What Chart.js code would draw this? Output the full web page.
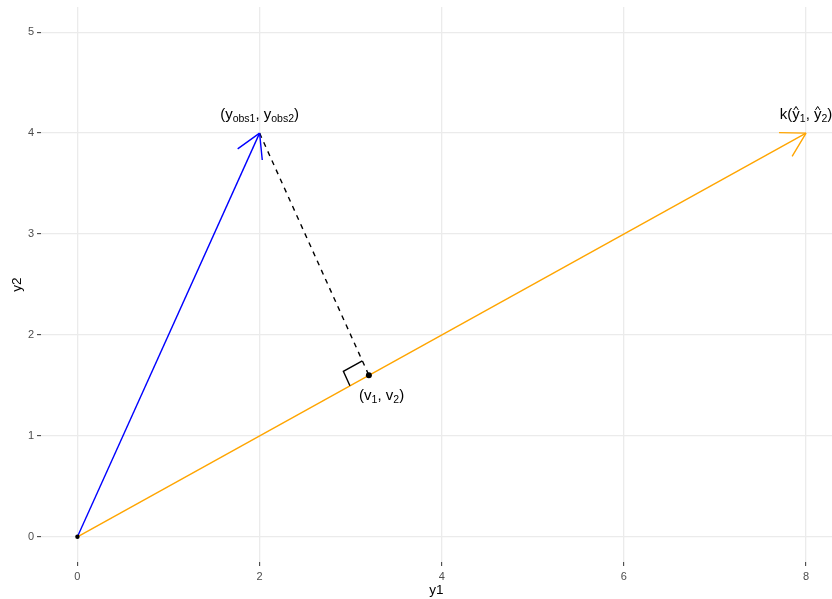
<!DOCTYPE html>
<html>
<head>
<meta charset="utf-8">
<script src="https://cdn.jsdelivr.net/npm/chart.js@4/dist/chart.umd.min.js"></script>
<style>
  html, body { margin: 0; padding: 0; background: #ffffff; overflow: hidden; }
  #wrap { width: 832px; height: 599px; }
</style>
</head>
<body>
<div id="wrap"><canvas id="c" width="832" height="599"></canvas></div>
<script>
// Vectors in the (y1, y2) plane
const originPt   = [0, 0];
const yObs       = [2, 4];     // observed vector
const yHatScaled = [8, 4];     // k times the fitted direction
const vProj      = [3.2, 1.6]; // projection of yObs onto the fitted direction

// Axis ticks and visible ranges
const xTicks = [0, 2, 4, 6, 8];
const yTicks = [0, 1, 2, 3, 4, 5];
const xRange = [-0.4, 8.285];
const yRange = [-0.25, 5.25];

// Annotation texts (pieces: plain, subscript, hatted) and their anchors
const labelParts = [
  [{t: '('}, {t: 'y'}, {t: 'obs1', sub: true}, {t: ', '}, {t: 'y'}, {t: 'obs2', sub: true}, {t: ')'}],
  [{t: 'k('}, {t: 'y', hat: true}, {t: '1', sub: true}, {t: ', '}, {t: 'y', hat: true}, {t: '2', sub: true}, {t: ')'}],
  [{t: '('}, {t: 'v'}, {t: '1', sub: true}, {t: ', '}, {t: 'v'}, {t: '2', sub: true}, {t: ')'}]
];
const labelX = [2, 8, 3.34];
const labelY = [4.18, 4.18, 1.4];

// Right-angle marker: fractions of the way from v toward the origin and toward yObs
const cornerAlongFit = 0.065;
const cornerAlongResid = 0.06;

const pt = (p) => ({x: p[0], y: p[1]});
const alongFit = [vProj[0] - cornerAlongFit * (vProj[0] - originPt[0]),
                  vProj[1] - cornerAlongFit * (vProj[1] - originPt[1])];
const stepResid = [cornerAlongResid * (yObs[0] - vProj[0]),
                   cornerAlongResid * (yObs[1] - vProj[1])];
const cornerPath = [
  alongFit,
  [alongFit[0] + stepResid[0], alongFit[1] + stepResid[1]],
  [vProj[0] + stepResid[0], vProj[1] + stepResid[1]]
];

const FONT = '"Liberation Sans", Arial, Helvetica, sans-serif';

// Open arrowheads at the end of datasets flagged with `arrow`
const arrowHeads = {
  id: 'arrowHeads',
  afterDatasetsDraw(chart) {
    const {ctx, scales: {x, y}} = chart;
    const L = 27, spread = Math.PI / 6;
    ctx.save();
    chart.data.datasets.forEach((ds) => {
      if (!ds.arrow) return;
      const a = ds.data[ds.data.length - 2], b = ds.data[ds.data.length - 1];
      const x0 = x.getPixelForValue(a.x), y0 = y.getPixelForValue(a.y);
      const x1 = x.getPixelForValue(b.x), y1 = y.getPixelForValue(b.y);
      const back = Math.atan2(y0 - y1, x0 - x1);
      ctx.strokeStyle = ds.borderColor;
      ctx.lineWidth = ds.borderWidth;
      ctx.lineCap = 'butt';
      ctx.beginPath();
      [-1, 1].forEach((s) => {
        ctx.moveTo(x1, y1);
        ctx.lineTo(x1 + L * Math.cos(back + s * spread), y1 + L * Math.sin(back + s * spread));
      });
      ctx.stroke();
    });
    ctx.restore();
  }
};

// Math-style labels with subscripts and hats
const mathLabels = {
  id: 'mathLabels',
  afterDatasetsDraw(chart) {
    const {ctx, scales: {x, y}} = chart;
    const mainSize = 15, subSize = 10.5;
    ctx.save();
    ctx.fillStyle = '#000000';
    ctx.strokeStyle = '#000000';
    ctx.textBaseline = 'alphabetic';
    ctx.textAlign = 'left';
    labelParts.forEach((parts, i) => {
      const widths = parts.map((p) => {
        ctx.font = (p.sub ? subSize : mainSize) + 'px ' + FONT;
        return ctx.measureText(p.t).width;
      });
      const total = widths.reduce((s, w) => s + w, 0);
      let cx = x.getPixelForValue(labelX[i]) - total / 2;
      const base = y.getPixelForValue(labelY[i]) + 4.5;
      parts.forEach((p, j) => {
        ctx.font = (p.sub ? subSize : mainSize) + 'px ' + FONT;
        ctx.fillText(p.t, cx, base + (p.sub ? 3 : 0));
        if (p.hat) {
          const w = widths[j];
          ctx.lineWidth = 1;
          ctx.beginPath();
          ctx.moveTo(cx + 1.5, base - 9.5);
          ctx.lineTo(cx + w / 2, base - 13);
          ctx.lineTo(cx + w - 1.5, base - 9.5);
          ctx.stroke();
        }
        cx += widths[j];
      });
    });
    ctx.restore();
  }
};

// Scales take the full panel: no extra padding reserved for edge tick labels
const noEdgePadding = (s) => { s.paddingLeft = 0; s.paddingRight = 0; s.paddingTop = 0; s.paddingBottom = 0; };

new Chart(document.getElementById('c'), {
  type: 'scatter',
  data: {
    datasets: [
      { // points at the origin and at v
        data: [pt(originPt), pt(vProj)],
        backgroundColor: '#000000', borderColor: '#000000',
        pointRadius: [2.2, 3], pointBorderWidth: 0, showLine: false, order: 0
      },
      { // right-angle marker
        data: cornerPath.map(pt),
        showLine: true, borderColor: '#000000', borderWidth: 1.4,
        pointRadius: 0, fill: false, order: 1
      },
      { // residual, dashed
        data: [pt(yObs), pt(vProj)],
        showLine: true, borderColor: '#000000', borderWidth: 1.4, borderDash: [5, 5],
        pointRadius: 0, order: 2
      },
      { // fitted vector
        data: [pt(originPt), pt(yHatScaled)],
        showLine: true, borderColor: '#FFA500', borderWidth: 1.4,
        pointRadius: 0, arrow: true, order: 3
      },
      { // observed vector
        data: [pt(originPt), pt(yObs)],
        showLine: true, borderColor: '#0000FF', borderWidth: 1.4,
        pointRadius: 0, arrow: true, order: 4
      }
    ]
  },
  options: {
    responsive: false,
    animation: false,
    events: [],
    layout: { autoPadding: false, padding: { top: 7, right: 0, bottom: 0, left: 0 } },
    plugins: { legend: { display: false }, tooltip: { enabled: false } },
    scales: {
      x: {
        type: 'linear', min: xRange[0], max: xRange[1],
        afterBuildTicks: (s) => { s.ticks = xTicks.map((v) => ({value: v})); },
        afterFit: (s) => { s.height = 37; noEdgePadding(s); },
        border: { display: false },
        grid: { color: '#EBEBEB', lineWidth: 1.3, tickColor: '#333333', tickLength: 4, tickWidth: 1 },
        ticks: { color: '#4D4D4D', font: { family: FONT, size: 11 }, padding: 4, maxRotation: 0 },
        title: { display: true, text: 'y1', color: '#000000', font: { family: FONT, size: 13.5 }, padding: { top: 0, bottom: 1 } }
      },
      y: {
        type: 'linear', min: yRange[0], max: yRange[1],
        afterBuildTicks: (s) => { s.ticks = yTicks.map((v) => ({value: v})); },
        afterFit: (s) => { s.width = 41; noEdgePadding(s); },
        border: { display: false },
        grid: { color: '#EBEBEB', lineWidth: 1.3, tickColor: '#333333', tickLength: 4, tickWidth: 1 },
        ticks: { color: '#4D4D4D', font: { family: FONT, size: 11 }, padding: 3 },
        title: { display: true, text: 'y2', color: '#000000', font: { family: FONT, size: 13.5 }, padding: { top: 9, bottom: 0 } }
      }
    }
  },
  plugins: [arrowHeads, mathLabels]
});
</script>
</body>
</html>
